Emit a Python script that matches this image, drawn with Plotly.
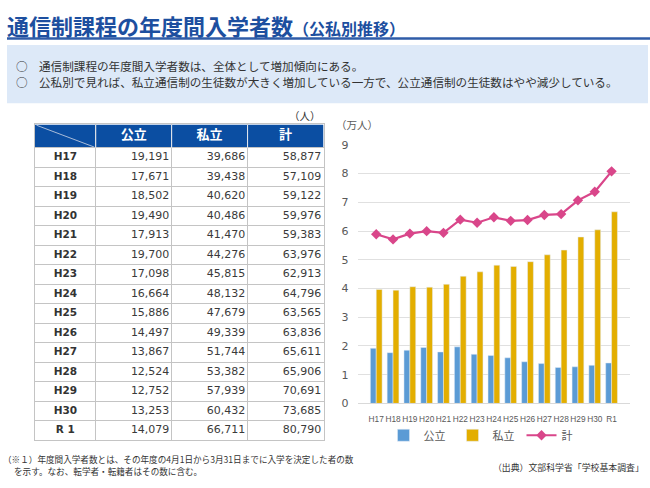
import plotly.graph_objects as go

# ---------------- data ----------------
years = ["H17", "H18", "H19", "H20", "H21", "H22", "H23", "H24", "H25",
         "H26", "H27", "H28", "H29", "H30", "R1"]
table_years = ["H17", "H18", "H19", "H20", "H21", "H22", "H23", "H24", "H25",
               "H26", "H27", "H28", "H29", "H30", "R 1"]
public = [19191, 17671, 18502, 19490, 17913, 19700, 17098, 16664, 15886,
          14497, 13867, 12524, 12752, 13253, 14079]
private = [39686, 39438, 40620, 40486, 41470, 44276, 45815, 48132, 47679,
           49339, 51744, 53382, 57939, 60432, 66711]
total = [58877, 57109, 59122, 59976, 59383, 63976, 62913, 64796, 63565,
         63836, 65611, 65906, 70691, 73685, 80790]
header_labels = ["", "公立", "私立", "計"]
y_ticks = [0, 1, 2, 3, 4, 5, 6, 7, 8, 9]

W, H = 650, 488
def px(x): return x / W
def py(y): return 1 - y / H

JP = "Noto Sans CJK JP"
BLUE_T = "#1d4f9f"
C_PUB = "#5b9bd5"
C_PRI = "#e3ae00"
C_TOT = "#d9468a"
HDR = "#0b4ea2"
GRID_T = "#c4c4c4"

fig = go.Figure()

# ---------------- table (drawn on its own axes x2/y2) ----------------
col_edges = [0, 0.8, 1.8, 2.8, 3.8]
n = len(table_years)
row_idx = list(range(n))
hdr_top, hdr_bot = -1.7, -0.5
fmt = lambda v: f"{v:,}"

fig.add_trace(go.Scatter(
    x=[(col_edges[0] + col_edges[1]) / 2] * n, y=row_idx,
    text=[f"<b>{y}</b>" for y in table_years], mode="text",
    textposition="middle center",
    textfont=dict(family="DejaVu Sans", size=10.5, color="#333333"),
    xaxis="x2", yaxis="y2", showlegend=False, hoverinfo="skip"))
for c, col in enumerate([public, private, total], start=1):
    fig.add_trace(go.Scatter(
        x=[col_edges[c + 1] - 0.03] * n, y=row_idx,
        text=[fmt(v) for v in col], mode="text", textposition="middle left",
        textfont=dict(family="DejaVu Sans", size=11, color="#3a3a3a"),
        xaxis="x2", yaxis="y2", showlegend=False, hoverinfo="skip"))
fig.add_trace(go.Scatter(
    x=[(col_edges[i] + col_edges[i + 1]) / 2 for i in range(1, 4)],
    y=[(hdr_top + hdr_bot) / 2] * 3,
    text=[f"<b>{h}</b>" for h in header_labels[1:]], mode="text",
    textposition="middle center",
    textfont=dict(family=JP, size=13, color="white"),
    xaxis="x2", yaxis="y2", showlegend=False, hoverinfo="skip"))

# ---------------- chart ----------------
pub_m = [v / 10000 for v in public]
pri_m = [v / 10000 for v in private]
tot_m = [v / 10000 for v in total]

fig.add_trace(go.Bar(x=years, y=pub_m, name="公立", marker_color=C_PUB,
                     xaxis="x", yaxis="y"))
fig.add_trace(go.Bar(x=years, y=pri_m, name="私立", marker_color=C_PRI,
                     xaxis="x", yaxis="y"))
fig.add_trace(go.Scatter(x=years, y=tot_m, name="計", mode="lines+markers",
                         line=dict(color=C_TOT, width=2.2),
                         marker=dict(symbol="diamond", size=8, color=C_TOT),
                         xaxis="x", yaxis="y"))

fig.update_layout(
    width=W, height=H,
    margin=dict(l=0, r=0, t=0, b=0),
    paper_bgcolor="white", plot_bgcolor="rgba(0,0,0,0)",
    barmode="group", bargap=0.3, bargroupgap=0,
    font=dict(family=JP, color="#595959"),
    xaxis=dict(domain=[px(357.6), px(630.2)], anchor="y",
               tickfont=dict(size=8.3, family="Liberation Sans", color="#595959"),
               tickangle=0, showline=True, linecolor="#d9d9d9", linewidth=1,
               ticks="", showgrid=False, fixedrange=True, ticklabelstandoff=8),
    yaxis=dict(domain=[py(408.3), py(142.7)], anchor="x",
               range=[0, 9], tickvals=y_ticks,
               tickfont=dict(size=11, family="DejaVu Sans", color="#595959"),
               showgrid=True, gridcolor="#e0e0e0", gridwidth=1,
               zeroline=False, ticks="", ticklabelstandoff=8, fixedrange=True),
    xaxis2=dict(domain=[px(35), px(323.5)], anchor="y2",
                range=[col_edges[0], col_edges[-1]],
                tickvals=col_edges[1:-1], showticklabels=False, ticks="",
                showgrid=True, gridcolor=GRID_T, gridwidth=1, zeroline=False,
                showline=True, mirror=True, linecolor=GRID_T, linewidth=1,
                fixedrange=True),
    yaxis2=dict(domain=[py(446), py(121.7)], anchor="x2",
                range=[n - 0.5, hdr_top],
                tickvals=[i - 0.5 for i in range(n)], showticklabels=False,
                ticks="", showgrid=True, gridcolor=GRID_T, gridwidth=1,
                zeroline=False, showline=True, mirror=True, linecolor=GRID_T,
                linewidth=1, fixedrange=True),
    legend=dict(orientation="h", x=px(487), xanchor="center",
                y=py(441), yanchor="middle",
                font=dict(size=11, family=JP, color="#595959"),
                itemwidth=30, entrywidth=24, entrywidthmode="pixels",
                traceorder="normal", bgcolor="rgba(0,0,0,0)"),
    showlegend=True,
)

# ---------------- shapes ----------------
shapes = [
    dict(type="line", xref="paper", yref="paper", x0=px(7), x1=px(650),
         y0=py(33.5), y1=py(33.5), line=dict(color="#2f5ca8", width=2.5)),
    dict(type="rect", xref="paper", yref="paper", x0=px(7), x1=px(648),
         y0=py(40), y1=py(100), fillcolor="#dde9f8", line=dict(width=0),
         layer="below"),
    dict(type="rect", xref="x2", yref="y2", x0=col_edges[0], x1=col_edges[-1],
         y0=hdr_top, y1=hdr_bot, fillcolor=HDR, line=dict(width=0),
         layer="below"),
    dict(type="line", xref="x2", yref="y2", x0=col_edges[0] + 0.02,
         x1=col_edges[1] - 0.02, y0=hdr_top + 0.04, y1=hdr_bot - 0.04,
         line=dict(color="#a9bcd9", width=1), layer="above"),
]
for e in col_edges[1:-1]:
    shapes.append(dict(type="line", xref="x2", yref="y2", x0=e, x1=e,
                       y0=hdr_top, y1=hdr_bot,
                       line=dict(color="#dfe6f0", width=1), layer="above"))
fig.update_layout(shapes=shapes)

# ---------------- annotations ----------------
ann = []
def text(x, y, s, size, color="#333333", xanchor="left", family=JP):
    ann.append(dict(xref="paper", yref="paper", x=px(x), y=py(y), text=s,
                    showarrow=False, xanchor=xanchor, yanchor="middle",
                    font=dict(size=size, color=color, family=family)))

text(5, 19.5, "<b>通信制課程の年度間入学者数</b>"
     "<span style='font-size:16px'><b>（公私別推移）</b></span>", 22, BLUE_T)
text(14, 62, "○", 11.6, "#333333")
text(14, 78.5, "○", 11.6, "#333333")
text(36.5, 62, "通信制課程の年度間入学者数は、全体として増加傾向にある。", 11.6)
text(36.5, 78.5, "公私別で見れば、私立通信制の生徒数が大きく増加している一方で、"
     "公立通信制の生徒数はやや減少している。", 11.6)
text(323, 112, "（人）", 10.5, "#333333", xanchor="right")
text(334, 122, "（万人）", 10.5, "#595959")
text(1, 465.5, "（※１）年度間入学者数とは、その年度の4月1日から3月31日までに入学を決定した者の数", 8.6)
text(12, 477.5, "を示す。なお、転学者・転籍者はその数に含む。", 8.6)
text(646, 474, "（出典）文部科学省「学校基本調査」", 8.9, "#333333", xanchor="right")
fig.update_layout(annotations=ann)

fig.write_html("out.html", config={"displayModeBar": False},
               post_script="document.body.style.margin='0';")
